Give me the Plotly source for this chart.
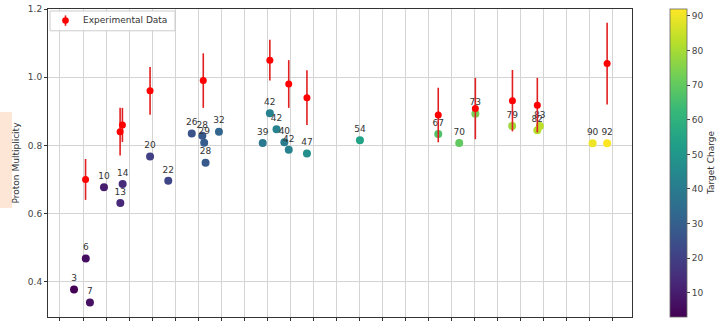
import plotly.graph_objects as go

# Model predictions: target position, proton multiplicity, target charge
target_x = [6.1, 11.2, 13.0, 19.1, 26.2, 27.2, 39.1, 47.0, 57.2, 61.8, 62.6, 69.0,
            63.2, 88.0, 91.1, 94.0, 97.4, 99.3, 107.2, 130.2, 164.2, 173.3, 180.3,
            196.3, 207.2, 208.3, 231.2, 237.5]
model_mult = [0.377, 0.468, 0.339, 0.677, 0.631, 0.687, 0.767, 0.696, 0.835, 0.828,
              0.808, 0.840, 0.749, 0.807, 0.894, 0.847, 0.809, 0.787, 0.776, 0.815,
              0.833, 0.807, 0.893, 0.857, 0.844, 0.857, 0.806, 0.806]
target_charge = [3, 6, 7, 10, 13, 14, 20, 22, 26, 28, 29, 32, 28, 39, 42, 42, 40, 42,
                 47, 54, 67, 70, 73, 79, 82, 83, 90, 92]

# Measured multiplicities with uncertainties
exp_x = [11.1, 26.1, 27.1, 39.1, 62.2, 91.1, 99.3, 107.2, 164.2, 180.3, 196.4, 207.2, 237.5]
exp_mult = [0.70, 0.84, 0.86, 0.96, 0.99, 1.05, 0.98, 0.94, 0.889, 0.908, 0.931, 0.918, 1.04]
exp_err = [0.06, 0.07, 0.05, 0.07, 0.08, 0.06, 0.07, 0.08, 0.08, 0.09, 0.09, 0.08, 0.12]

x_ticks = list(range(0, 250, 10))
y_ticks = [0.4, 0.6, 0.8, 1.0, 1.2]
cbar_ticks = [10, 20, 30, 40, 50, 60, 70, 80, 90]

FONT = "DejaVu Sans"
W, H = 717, 323
L, R, T, B = 48, 85, 9, 3
PW, PH = W - L - R, H - T - B


def px(xp):
    """Horizontal pixel -> paper fraction."""
    return (xp - L) / PW


def py(yp):
    """Vertical pixel (from top) -> paper fraction."""
    return (H - B - yp) / PH


fig = go.Figure()

fig.add_trace(go.Scatter(
    x=target_x, y=model_mult, mode="markers+text",
    text=[str(z) for z in target_charge], textposition="top center",
    textfont=dict(family=FONT, size=9, color="#333333"),
    marker=dict(size=8, color=target_charge, colorscale="Viridis", cmin=3, cmax=92,
                line=dict(width=0),
                colorbar=dict(
                    x=px(670), xanchor="left", xpad=0, ypad=0,
                    y=0.5, yanchor="middle", len=1.0, lenmode="fraction",
                    thickness=17, outlinewidth=0.8, outlinecolor="#666666",
                    tickvals=cbar_ticks,
                    ticks="outside", ticklen=3, tickcolor="#444444",
                    tickfont=dict(family=FONT, size=9, color="#444444"),
                )),
    showlegend=False, hoverinfo="skip",
))

fig.add_trace(go.Scatter(
    x=exp_x, y=exp_mult, mode="markers", name="Experimental Data",
    marker=dict(size=7, color="red"),
    error_y=dict(type="data", array=exp_err, visible=True, color="#e02020",
                 thickness=1.6, width=0),
    showlegend=False,
))

# Legend box drawn by hand: red dot with a vertical error bar and its label
legend_shapes = [
    dict(type="rect", xref="paper", yref="paper",
         x0=px(50), x1=px(175), y0=py(31), y1=py(11),
         fillcolor="rgba(255,255,255,0.9)", line=dict(color="#cccccc", width=1)),
    dict(type="line", xref="paper", yref="paper",
         x0=px(65.5), x1=px(65.5), y0=py(26), y1=py(15.5),
         line=dict(color="#e02020", width=1.6)),
    dict(type="circle", xref="paper", yref="paper",
         x0=px(62.2), x1=px(68.8), y0=py(24), y1=py(17.4),
         fillcolor="red", line=dict(width=0)),
]

fig.update_layout(
    width=W, height=H,
    margin=dict(l=L, r=R, t=T, b=B),
    paper_bgcolor="white", plot_bgcolor="white",
    font=dict(family=FONT, size=9, color="#444444"),
    showlegend=False,
    xaxis=dict(range=[-5.2, 248.3], tickvals=x_ticks, showticklabels=False,
               showgrid=True, gridcolor="#d4d4d4", gridwidth=1,
               ticks="outside", ticklen=3, tickcolor="#333333",
               showline=True, linecolor="#333333", linewidth=1, mirror=True,
               zeroline=False),
    yaxis=dict(range=[0.2965, 1.2], tickvals=y_ticks,
               ticktext=["0.4", "0.6", "0.8", "1.0", "1.2"],
               showgrid=True, gridcolor="#d4d4d4", gridwidth=1,
               ticks="outside", ticklen=3, tickcolor="#333333",
               showline=True, linecolor="#333333", linewidth=1, mirror=True,
               zeroline=False,
               title=dict(text="Proton Multiplicity", standoff=6,
                          font=dict(family=FONT, size=9, color="#333333"))),
    shapes=[dict(type="rect", xref="paper", yref="paper",
                 x0=px(0), x1=px(12), y0=py(210), y1=py(113),
                 fillcolor="#fde6d6", line=dict(width=0), layer="below")]
           + legend_shapes,
    annotations=[
        dict(text="Experimental Data", xref="paper", yref="paper",
             x=px(81), y=py(20.5), xanchor="left", yanchor="middle",
             showarrow=False, font=dict(family=FONT, size=9, color="#333333")),
        dict(text="Target Charge", xref="paper", yref="paper",
             x=px(711), y=0.5, xanchor="center", yanchor="middle", textangle=-90,
             showarrow=False, font=dict(family=FONT, size=9, color="#333333")),
    ],
)

fig.write_html("out.html")
